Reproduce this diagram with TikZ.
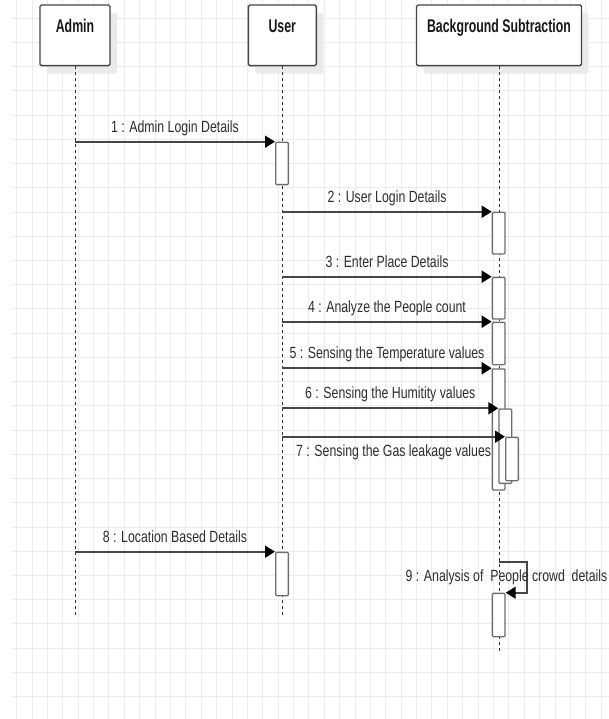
\documentclass[tikz,border=0pt]{standalone}
\usepackage{fontspec}
\setmainfont{Liberation Sans}
\newfontfamily\msgfont[FakeStretch=0.76]{Liberation Sans}
\newfontfamily\cabfont[FakeStretch=0.67]{Liberation Sans}
\usetikzlibrary{arrows.meta,positioning,shadows}
\definecolor{borde}{RGB}{68,68,68}
\definecolor{grisact}{RGB}{110,110,110}
\definecolor{linea}{RGB}{70,70,70}
\definecolor{texto}{RGB}{45,45,45}
\definecolor{rejilla}{RGB}{236,236,236}
\definecolor{sombra}{RGB}{234,234,234}
\tikzset{
  obj/.style={draw=borde, fill=white, line width=1.4pt, rounded corners=1.5pt, anchor=north,
    minimum height=60.7pt, text height=13.5pt, text depth=19.2pt, inner ysep=14pt, inner xsep=0pt,
    font=\cabfont\bfseries\fontsize{18.4pt}{21pt}\selectfont, text=black!90,
    drop shadow={shadow xshift=7pt, shadow yshift=-8pt, fill=sombra, opacity=1}},
  act/.style={draw=grisact, fill=white, line width=1.3pt, rounded corners=1pt, anchor=north west,
    minimum width=12.7pt, inner sep=0pt},
  vida/.style={draw=black!80, line width=1pt, dash pattern=on 3pt off 3pt},
  fl/.style={-{Triangle[length=10pt,width=12pt,color=black]}, line width=1.8pt, draw=linea},
  et/.style={font=\msgfont\fontsize{16.2pt}{19pt}\selectfont, text=texto, inner sep=0pt},
  sobre/.style={et, anchor=base, yshift=9.5pt},
  bajo/.style={et, anchor=base, yshift=-19.5pt},
  rej/.style={draw=rejilla, line width=1pt},
}
\begin{document}
\begin{tikzpicture}[x=1pt,y=-1pt]
  \useasboundingbox (0,0) rectangle (609,719);
  % rejilla de fondo
  \foreach \i in {0,...,38} \draw[rej] ({16.7+15.38*\i},0) -- ++(0,719);
  \foreach \j in {0,...,28} \draw[rej] (11,{18.2+24.23*\j}) -- ++(598,0);
  % objetos y lineas de vida
  \node[obj, minimum width=70pt] (admin) at (75,4.3) {Admin};
  \node[obj, minimum width=68pt] (user) at (282.3,4.3) {User};
  \node[obj, minimum width=165pt] (bgs) at (499,4.3) {Background Subtraction};
  \coordinate (fadmin) at (75,615);
  \coordinate (fuser) at (282.3,615);
  \coordinate (fbgs) at (499,651);
  \draw[vida] (admin.south) -- (fadmin);
  \draw[vida] (user.south) -- (fuser);
  \draw[vida] (bgs.south) -- (fbgs);
  % activaciones
  \node[act, minimum height=42.3pt] (a1) at (275,141.7) {};
  \node[act, minimum height=41.6pt] (b2) at (491.7,211.7) {};
  \node[act, minimum height=41.6pt] (b3) at (491.7,276.7) {};
  \node[act, minimum height=42.3pt] (b4) at (491.7,321.7) {};
  \node[act, minimum height=121pt] (b5) at (491.7,368.3) {};
  \node[act, minimum height=74.4pt] (b6) at (498.3,408.3) {};
  \node[act, minimum height=43.3pt] (b7) at (505,436.7) {};
  \node[act, minimum height=43.3pt] (a8) at (275,551.7) {};
  \node[act, minimum height=43.3pt] (b9) at (491.7,592.7) {};
  % mensajes
  \draw[fl] (admin.south |- a1.north west) -- node[sobre]{1 : Admin Login Details} (a1.north west);
  \draw[fl] (user.south |- b2.north west) -- node[sobre]{2 : User Login Details} (b2.north west);
  \draw[fl] (user.south |- b3.north west) -- node[sobre]{3 : Enter Place Details} (b3.north west);
  \draw[fl] (user.south |- b4.north west) -- node[sobre]{4 : Analyze the People count} (b4.north west);
  \draw[fl] (user.south |- b5.north west) -- node[sobre]{5 : Sensing the Temperature values} (b5.north west);
  \draw[fl] (user.south |- b6.north west) -- node[sobre]{6 : Sensing the Humitity values} (b6.north west);
  \draw[fl] (user.south |- b7.north west) -- node[bajo]{7 : Sensing the Gas leakage values} (b7.north west);
  \draw[fl] (admin.south |- a8.north west) -- node[sobre]{8 : Location Based Details} (a8.north west);
  \coordinate (r9) at (499,562.3);
  \draw[fl] (r9) -- ++(28.3,0) |- (b9.north east);
  \node[et, anchor=base west] (e9) at (405.5,581.5) {9 : Analysis of\ \ People crowd\ \ details};
\end{tikzpicture}
\end{document}
